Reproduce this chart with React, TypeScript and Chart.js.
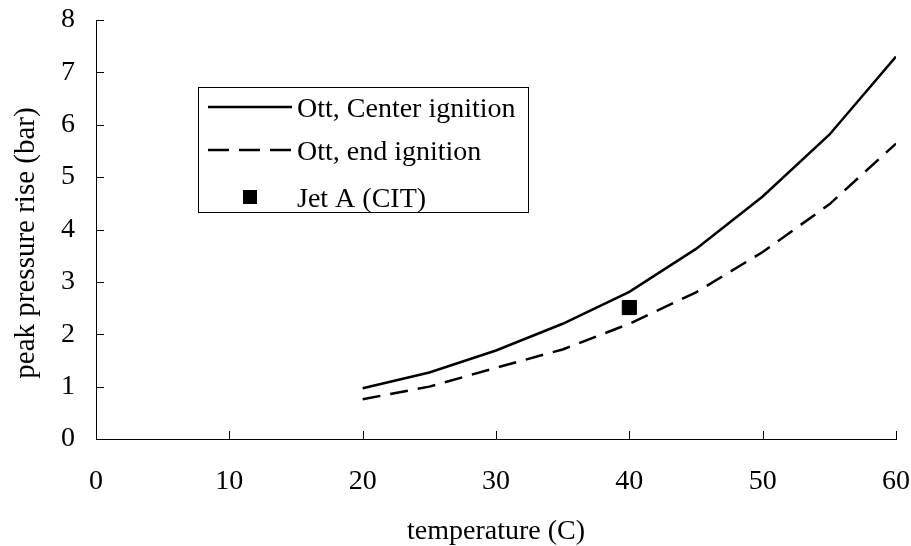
import React, { useEffect, useRef } from "react";
import { Chart, registerables } from "chart.js";

Chart.register(...registerables);

const temperatures = [20, 25, 30, 35, 40, 45, 50, 55, 60];
const centerIgnition = [0.97, 1.27, 1.69, 2.2, 2.81, 3.63, 4.63, 5.81, 7.3];
const endIgnition = [0.76, 1.0, 1.36, 1.71, 2.2, 2.8, 3.57, 4.48, 5.64];
const jetATemp = [40];
const jetAPressure = [2.51];

const legendLabels = ["Ott, Center ignition", "Ott, end ignition", "Jet A (CIT)"];
const xTitle = "temperature (C)";
const yTitle = "peak pressure rise (bar)";

const FONT = "Liberation Serif, 'Times New Roman', serif";
const FS = 28;

const overlayPlugin = {
  id: "overlay",
  afterDraw(chart: any) {
    const { ctx, chartArea, scales } = chart;
    const xs = scales.x;
    const ys = scales.y;
    ctx.save();
    // inside tick marks
    ctx.strokeStyle = "#000";
    ctx.lineWidth = 1;
    ctx.beginPath();
    xs.ticks.forEach((t: any) => {
      const px = Math.round(xs.getPixelForValue(t.value)) + 0.5;
      ctx.moveTo(px, chartArea.bottom);
      ctx.lineTo(px, chartArea.bottom - 8);
    });
    ys.ticks.forEach((t: any) => {
      const py = Math.round(ys.getPixelForValue(t.value)) + 0.5;
      ctx.moveTo(chartArea.left, py);
      ctx.lineTo(chartArea.left + 8, py);
    });
    ctx.stroke();

    // y title
    ctx.save();
    ctx.translate(26, 243);
    ctx.rotate(-Math.PI / 2);
    ctx.font = `29px ${FONT}`;
    ctx.fillStyle = "#000";
    ctx.textAlign = "center";
    ctx.textBaseline = "middle";
    ctx.fillText(yTitle, 0, 0);
    ctx.restore();

    // legend
    const lx = chartArea.left + 102;
    const ly = chartArea.top + 67;
    ctx.strokeStyle = "#000";
    ctx.lineWidth = 1;
    ctx.strokeRect(Math.round(lx) + 0.5, Math.round(ly) + 0.5, 330, 125);
    ctx.font = `${FS}px ${FONT}`;
    ctx.fillStyle = "#000";
    ctx.textAlign = "left";
    ctx.textBaseline = "middle";
    const rows = [ly + 20, ly + 63, ly + 110];
    ctx.lineWidth = 2.5;
    ctx.setLineDash([]);
    ctx.beginPath();
    ctx.moveTo(lx + 10, rows[0]);
    ctx.lineTo(lx + 94, rows[0]);
    ctx.stroke();
    ctx.setLineDash([21, 10]);
    ctx.beginPath();
    ctx.moveTo(lx + 10, rows[1]);
    ctx.lineTo(lx + 94, rows[1]);
    ctx.stroke();
    ctx.setLineDash([]);
    ctx.fillRect(lx + 45, rows[2] - 7, 14, 14);
    ctx.fillText(legendLabels[0], lx + 99, rows[0] + 3);
    ctx.fillText(legendLabels[1], lx + 99, rows[1] + 3);
    ctx.fillText(legendLabels[2], lx + 99, rows[2] + 3);
    ctx.restore();
  },
};

export default function App() {
  const ref = useRef<HTMLCanvasElement | null>(null);
  useEffect(() => {
    document.body.style.margin = "0";
    const canvas = ref.current!;
    const chart = new Chart(canvas, {
      type: "line",
      data: {
        datasets: [
          {
            label: legendLabels[0],
            data: temperatures.map((t, i) => ({ x: t, y: centerIgnition[i] })),
            borderColor: "#000",
            borderWidth: 2.5,
            pointRadius: 0,
            tension: 0,
            fill: false,
          },
          {
            label: legendLabels[1],
            data: temperatures.map((t, i) => ({ x: t, y: endIgnition[i] })),
            borderColor: "#000",
            borderWidth: 2.5,
            borderDash: [18, 10],
            pointRadius: 0,
            tension: 0,
            fill: false,
          },
          {
            label: legendLabels[2],
            data: jetATemp.map((t, i) => ({ x: t, y: jetAPressure[i] })),
            showLine: false,
            pointStyle: "rect",
            pointRadius: 10,
            borderWidth: 1,
            backgroundColor: "#000",
            borderColor: "#000",
          },
        ],
      },
      options: {
        animation: false,
        responsive: false,
        events: [],
        layout: { padding: { top: 20, right: 15, left: 0, bottom: 0 } },
        plugins: { legend: { display: false }, tooltip: { enabled: false } },
        scales: {
          x: {
            type: "linear",
            min: 0,
            max: 60,
            grid: { display: false, drawTicks: false, tickLength: 0 },
            border: { display: true, color: "#000", width: 1 },
            ticks: {
              stepSize: 10,
              padding: 26,
              color: "#000",
              font: { family: FONT, size: FS },
              maxRotation: 0,
            },
            title: {
              display: true,
              text: xTitle,
              color: "#000",
              font: { family: FONT, size: FS, lineHeight: 1 },
              padding: 0,
            },
            afterFit: (s: any) => {
              s.height = 107;
              s.paddingLeft = 0;
              s.paddingRight = 0;
            },
          },
          y: {
            type: "linear",
            min: 0,
            max: 8,
            grid: { display: false, drawTicks: false, tickLength: 0 },
            border: { display: true, color: "#000", width: 1 },
            ticks: {
              stepSize: 1,
              padding: 21,
              color: "#000",
              font: { family: FONT, size: FS },
            },
            afterFit: (s: any) => {
              s.width = 96;
              s.paddingTop = 0;
              s.paddingBottom = 0;
            },
          },
        },
      },
      plugins: [overlayPlugin],
    });
    return () => chart.destroy();
  }, []);
  return <canvas ref={ref} width={911} height={546} style={{ display: "block" }} />;
}
